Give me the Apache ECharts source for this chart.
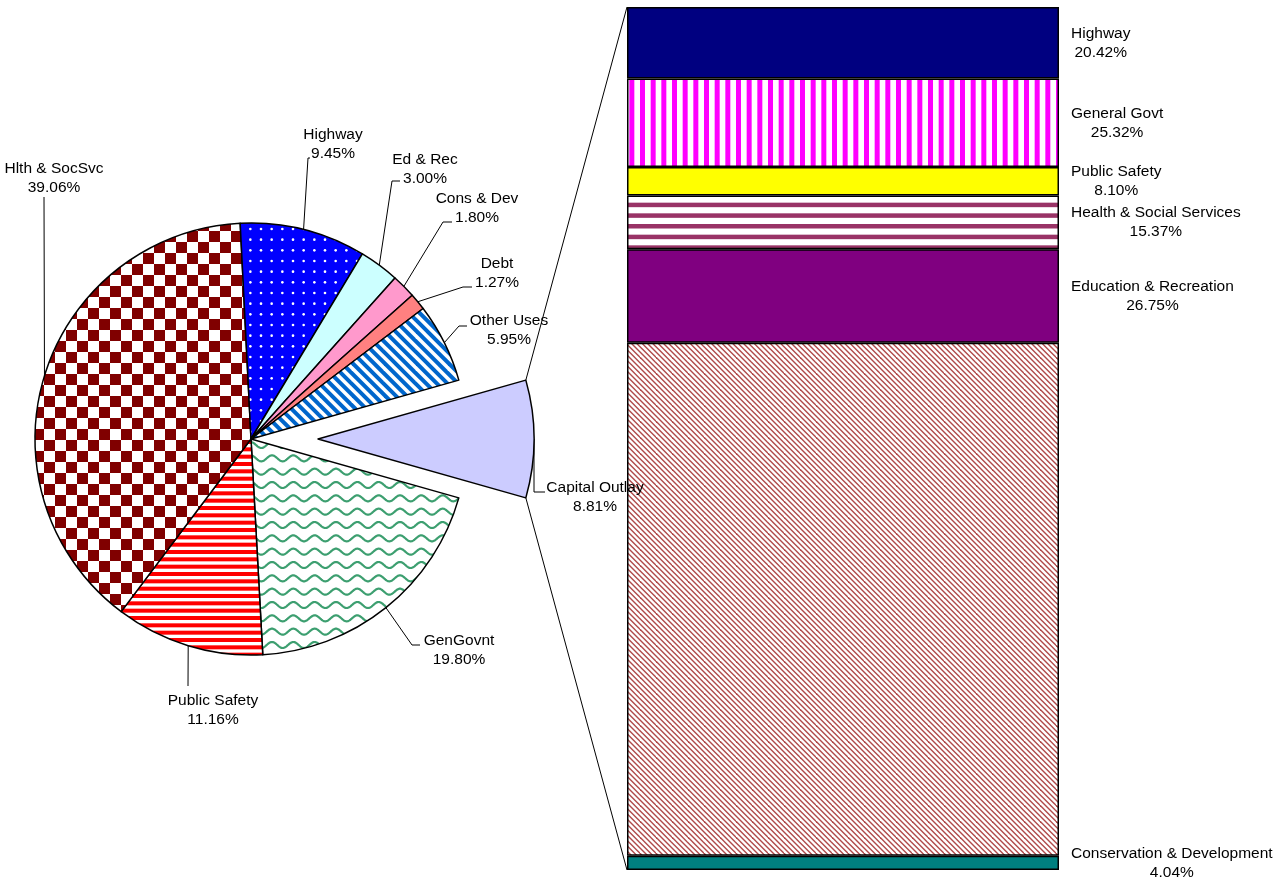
<!DOCTYPE html>
<html><head><meta charset="utf-8">
<script src="https://cdn.jsdelivr.net/npm/echarts@6/dist/echarts.min.js"></script>
<style>html,body{margin:0;padding:0;background:#fff}#c{width:1279px;height:883px}</style>
</head><body><div id="c"></div>
<script>
// ---- data ----
const pieNames  = ['Capital Outlay','GenGovnt','Public Safety','Hlth & SocSvc','Highway','Ed & Rec','Cons & Dev','Debt','Other Uses'];
const pieValues = [8.81, 19.80, 11.16, 39.06, 9.45, 3.00, 1.80, 1.27, 5.95];
const barNames  = ['Highway','General Govt','Public Safety','Health & Social Services','Education & Recreation','','Conservation & Development'];
const barValues = [20.42, 25.32, 8.10, 15.37, 26.75, 146.6, 4.04];

// ---- layout (not data) ----
const FONT = '"Liberation Sans", Arial, sans-serif';
const FS = 15.5, LH = 19;
const PIE_C = [251, 439], PIE_R = 216, EXPLODE = 67;
const BAR = {left: 627, top: 7, width: 432, height: 863};
// label center x,y ; leader elbow x,y ; leader end x,y
const pieLabelLayout = [
  [595, 497, 534, 492, 545, 492],
  [459, 650, 412, 645, 420, 645],
  [213, 710, 188, 686, 188, 686],
  [54, 178, 44, 197, 44, 197],
  [333, 144, 308, 158, 310, 158],
  [425, 169, 392, 181, 400, 181],
  [477, 208, 443, 222, 452, 222],
  [497, 273, 463, 287, 472, 287],
  [509, 330, 459, 326, 467, 326]
];

// ---- patterns ----
function pat(w, h, fn) { const c = document.createElement('canvas'); c.width = w; c.height = h; const g = c.getContext('2d'); fn(g, w, h); return {image: c, repeat: 'repeat'}; }
const T = 32 / 3;
const P = {
  checker: pat(22, 22, g => { g.fillStyle = '#fff'; g.fillRect(0,0,22,22); g.fillStyle = '#800000'; g.fillRect(0,0,11,11); g.fillRect(11,11,11,11); }),
  dots: pat(32, 32, g => { g.fillStyle = '#0000ff'; g.fillRect(0,0,32,32); g.fillStyle = '#fff';
    for (let i = 0; i < 3; i++) for (let j = 0; j < 3; j++) { g.beginPath(); g.arc(i*T+5, j*T+5, 1.3, 0, Math.PI*2); g.fill(); } }),
  diagBlue: pat(32, 32, g => { g.fillStyle = '#fff'; g.fillRect(0,0,32,32); g.strokeStyle = '#0066cc'; g.lineWidth = 4;
    for (let k = -4; k <= 7; k++) { const c = k*T; g.beginPath(); g.moveTo(c-40, -40); g.lineTo(c+72, 72); g.stroke(); } }),
  wave: pat(64, 40, g => { g.fillStyle = '#fff'; g.fillRect(0,0,64,40); g.strokeStyle = '#3d9f70'; g.lineWidth = 2.2;
    const px = 64/3, py = 40/3;
    for (let r = -1; r <= 3; r++) { const y0 = r*py + 5; g.beginPath();
      for (let x = -1; x <= 65; x += 0.5) { const y = y0 + 3*Math.sin(2*Math.PI*x/px); if (x === -1) g.moveTo(x, y); else g.lineTo(x, y); }
      g.stroke(); } }),
  redH: pat(4, 22, g => { g.fillStyle = '#fff'; g.fillRect(0,0,4,22); g.fillStyle = '#ff0000'; for (let k = 0; k < 3; k++) g.fillRect(0, k*22/3, 4, 4); }),
  magV: pat(32, 4, g => { g.fillStyle = '#fff'; g.fillRect(0,0,32,4); g.fillStyle = '#ff00ff'; for (let k = 0; k < 3; k++) g.fillRect(k*T, 0, 5, 4); }),
  maroonH: pat(4, 32, g => { g.fillStyle = '#fff'; g.fillRect(0,0,4,32); g.fillStyle = '#993366'; for (let k = 0; k < 3; k++) g.fillRect(0, k*T, 4, 4.5); }),
  hatch: pat(16, 16, g => { g.fillStyle = '#fff'; g.fillRect(0,0,16,16); g.strokeStyle = '#b04a4a'; g.lineWidth = 1.4;
    for (let k = -4; k <= 7; k++) { const c = k*16/3; g.beginPath(); g.moveTo(c-20, -20); g.lineTo(c+36, 36); g.stroke(); } })
};
const pieFills = ['#ccccff', P.wave, P.redH, P.checker, P.dots, '#ccffff', '#ff99cc', '#ff8080', P.diagBlue];
const barFills = ['#000080', P.magV, '#ffff00', P.maroonH, '#800080', P.hatch, '#008080'];

// ---- geometry ----
const pieTotal = pieValues.reduce((a, b) => a + b, 0);
const startAngle = pieValues[0] / pieTotal * 360 / 2;
const midAngles = [];
{ let cum = 0; pieValues.forEach(v => { midAngles.push(startAngle - (cum + v/2) / pieTotal * 360); cum += v; }); }
function arcPoint(cx, cy, deg) { const a = deg * Math.PI / 180; return [cx + PIE_R*Math.cos(a), cy - PIE_R*Math.sin(a)]; }

const labelStyle = {fontSize: FS, fontFamily: FONT, color: '#000', lineHeight: LH};

function pieSeries(showIdx, center) {
  return {
    type: 'pie', center: center, radius: PIE_R, startAngle: startAngle, clockwise: true,
    avoidLabelOverlap: false, silent: true, animation: false,
    emphasis: {disabled: true, scale: false},
    label: Object.assign({show: true, position: 'outside', overflow: 'none', align: 'center',
      formatter: p => p.name + '\n' + p.value.toFixed(2) + '%'}, labelStyle),
    labelLine: {show: true, length: 10, length2: 10, smooth: false, lineStyle: {color: '#000', width: 1}},
    labelLayout: function (params) {
      const i = params.dataIndex;
      if (!showIdx(i)) return {};
      const L = pieLabelLayout[i];
      const p0 = arcPoint(center[0], center[1], midAngles[i]);
      return {x: L[0], y: L[1], align: 'center', verticalAlign: 'middle',
        labelLinePoints: [p0, [L[2], L[3]], [L[4], L[5]]]};
    },
    data: pieNames.map((n, i) => showIdx(i) ? {
      name: n, value: pieValues[i],
      itemStyle: {color: pieFills[i], borderColor: '#000', borderWidth: 1.5}
    } : {
      name: n, value: pieValues[i],
      itemStyle: {color: 'rgba(0,0,0,0)', borderWidth: 0},
      label: {show: false}, labelLine: {show: false}
    })
  };
}

// measure text for bar labels
const mctx = document.createElement('canvas').getContext('2d');
mctx.font = FS + 'px ' + FONT;
const barTotal = barValues.reduce((a, b) => a + b, 0);

const barSeries = barValues.map((v, i) => {
  const txt = barNames[i] ? barNames[i] + '\n' + v.toFixed(2) + '%' : '';
  const w = Math.max.apply(null, txt.split('\n').map(s => mctx.measureText(s).width));
  return {
    type: 'bar', stack: 'cap', barWidth: '100%', silent: true, animation: false,
    data: [v],
    itemStyle: {color: barFills[i], borderColor: '#000', borderWidth: 1.5},
    label: Object.assign({show: !!barNames[i], formatter: () => txt,
      position: [BAR.width + 12 + w/2, '50%'], align: 'center', verticalAlign: 'middle'}, labelStyle)
  };
});

const expC = [PIE_C[0] + EXPLODE, PIE_C[1]];
const halfA = startAngle;
const topEnd = arcPoint(expC[0], expC[1], halfA);
const botEnd = arcPoint(expC[0], expC[1], -halfA);

const chart = echarts.init(document.getElementById('c'), null, {renderer: 'canvas'});
chart.setOption({
  backgroundColor: '#fff',
  animation: false,
  grid: {left: BAR.left, top: BAR.top, width: BAR.width, height: BAR.height, containLabel: false},
  xAxis: {type: 'category', data: ['Capital Outlay'], show: false},
  yAxis: {type: 'value', inverse: true, min: 0, max: barTotal, show: false},
  series: [
    pieSeries(i => i !== 0, PIE_C),
    pieSeries(i => i === 0, expC)
  ].concat(barSeries),
  graphic: [
    {type: 'line', shape: {x1: topEnd[0], y1: topEnd[1], x2: BAR.left, y2: BAR.top}, style: {stroke: '#000', lineWidth: 1}, silent: true},
    {type: 'line', shape: {x1: botEnd[0], y1: botEnd[1], x2: BAR.left, y2: BAR.top + BAR.height}, style: {stroke: '#000', lineWidth: 1}, silent: true}
  ]
});
</script>
</body></html>
